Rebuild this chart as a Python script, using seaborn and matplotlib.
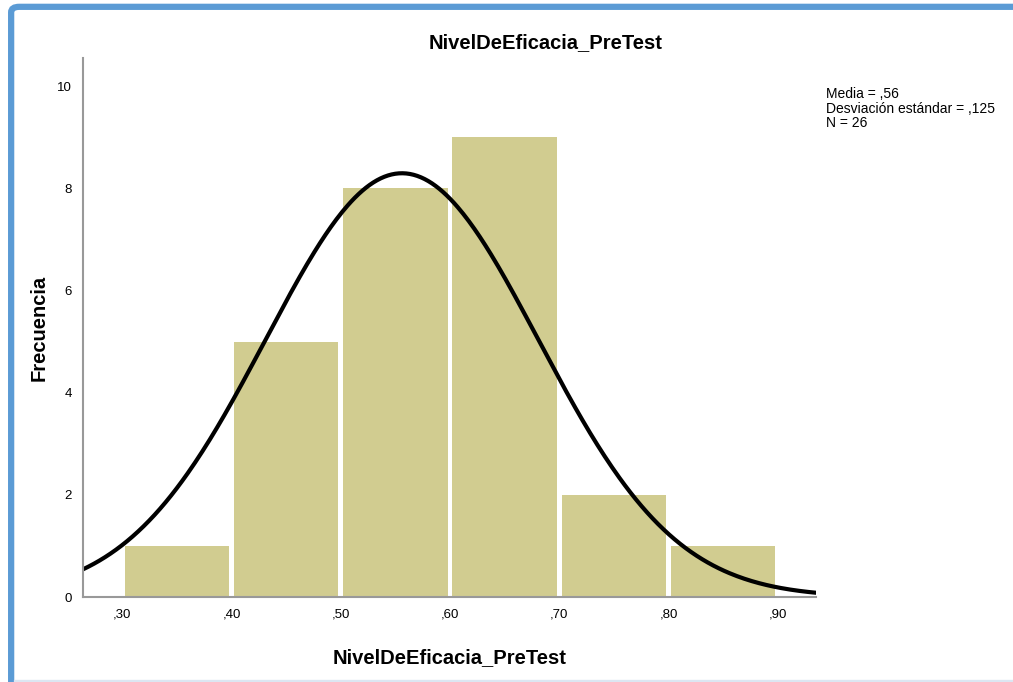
import numpy as np
import pandas as pd
import matplotlib
matplotlib.use("Agg")
import matplotlib.pyplot as plt
import seaborn as sns
from matplotlib.patches import FancyBboxPatch, Rectangle

# Histogram data (bins of width 0.10)
bin_edges = [0.30, 0.40, 0.50, 0.60, 0.70, 0.80, 0.90]
counts = [1, 5, 8, 9, 2, 1]
x_ticks = [0.30, 0.40, 0.50, 0.60, 0.70, 0.80, 0.90]
x_tick_labels = [",30", ",40", ",50", ",60", ",70", ",80", ",90"]
y_ticks = [0, 2, 4, 6, 8, 10]

# Summary statistics shown in the chart
mean = 0.556
std = 0.125
n = 26

sns.set_theme(style="white")
plt.rcParams["font.family"] = ["Liberation Sans", "DejaVu Sans"]

fig = plt.figure(figsize=(10.13, 6.82), dpi=100)
ax = fig.add_axes([0.0819, 0.1246, 0.7236, 0.790])

centers = [(a + b) / 2 for a, b in zip(bin_edges[:-1], bin_edges[1:])]
hist_df = pd.DataFrame({"x": centers, "w": counts})
sns.histplot(data=hist_df, x="x", weights="w", bins=bin_edges, ax=ax,
             color="#D1CC90", alpha=1, linewidth=0, shrink=0.955)

# fitted normal curve scaled to counts
xmin, xmax = 0.264, 0.935
xs = np.linspace(xmin, xmax, 400)
binw = bin_edges[1] - bin_edges[0]
ys = n * binw / (std * np.sqrt(2 * np.pi)) * np.exp(-0.5 * ((xs - mean) / std) ** 2)
sns.lineplot(x=xs, y=ys, ax=ax, color="black", linewidth=3)

ax.set_xlim(xmin, xmax)
ax.set_ylim(0, 10.55)
ax.set_xticks(x_ticks)
ax.set_xticklabels(x_tick_labels, fontsize=9.5)
ax.set_yticks(y_ticks)
ax.set_yticklabels([str(v) for v in y_ticks], fontsize=9.5)
ax.tick_params(axis="both", length=0, pad=8, colors="black")
ax.grid(False)

for side in ["top", "right"]:
    ax.spines[side].set_visible(False)
for side in ["left", "bottom"]:
    ax.spines[side].set_color("#999999")
    ax.spines[side].set_linewidth(1.5)

fig.text(0.539, 0.938, "NivelDeEficacia_PreTest", fontsize=14.5,
         fontweight="bold", ha="center", va="center", color="black")
ax.set_xlabel("NivelDeEficacia_PreTest", fontsize=14.5, fontweight="bold",
              labelpad=20, color="black")
ax.set_ylabel("Frecuencia", fontsize=14.5, fontweight="bold", labelpad=6,
              color="black")

fig.text(0.815, 0.872, f"Media = ,{int(round(mean * 100))}\n"
         f"Desviación estándar = ,{int(round(std * 1000))}\nN = {n}",
         fontsize=10, va="top", ha="left", linespacing=1.05, color="black")

# frame decoration (blue window border)
fig.add_artist(FancyBboxPatch((0.011, -0.05), 1.2, 1.04,
                              boxstyle="round,pad=0,rounding_size=0.008",
                              transform=fig.transFigure, fill=False,
                              edgecolor="#5B9BD5", linewidth=4.5))
fig.add_artist(Rectangle((0.014, 0.002), 1.0, 0.001, transform=fig.transFigure,
                         color="#DCE6F2", linewidth=1))

fig.savefig("out.png", dpi=100)
